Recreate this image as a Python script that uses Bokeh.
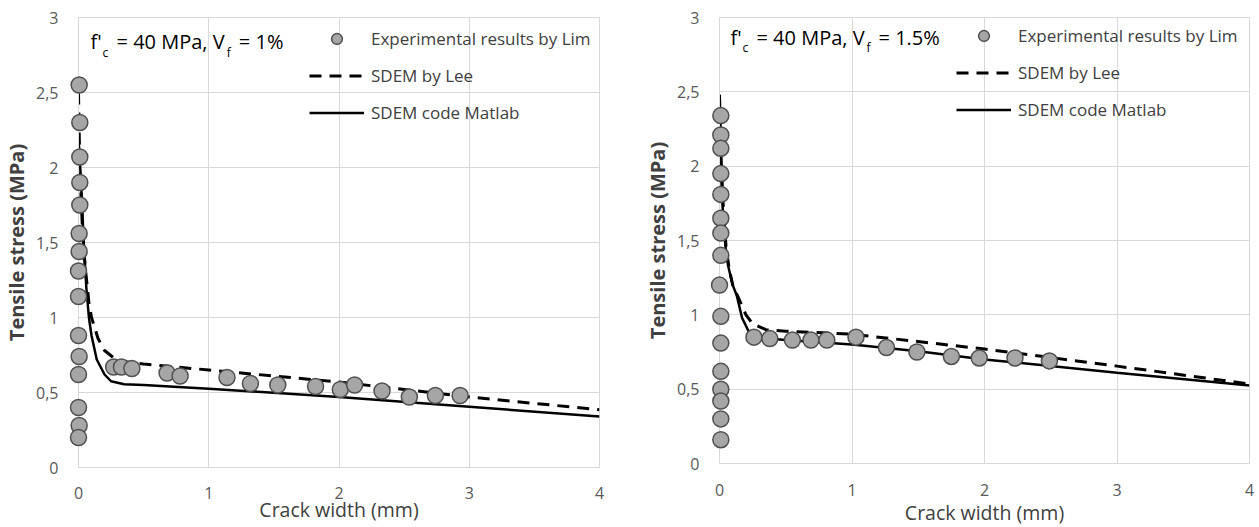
from bokeh.plotting import figure
from bokeh.layouts import row
from bokeh.models import Range1d, FixedTicker, Legend, LegendItem, Label
from bokeh.embed import file_html
from bokeh.resources import INLINE

# ---------------- data: left panel (f'c = 40 MPa, Vf = 1%) ----------------
exp1_x = [0.005, 0.01, 0.01, 0.01, 0.01, 0.005, 0.005, 0.0, 0.0, 0.0, 0.005, 0.0, 0.0, 0.005, 0.0,
          0.27, 0.33, 0.41, 0.68, 0.78, 1.14, 1.32, 1.53, 1.82, 2.01, 2.12, 2.33, 2.54, 2.74, 2.93]
exp1_y = [2.55, 2.30, 2.07, 1.90, 1.75, 1.56, 1.44, 1.31, 1.14, 0.88, 0.74, 0.62, 0.40, 0.28, 0.20,
          0.67, 0.67, 0.66, 0.63, 0.61, 0.60, 0.56, 0.55, 0.54, 0.52, 0.55, 0.51, 0.47, 0.48, 0.48]
lee1_x = [0.0, 0.01, 0.03, 0.05, 0.08, 0.10, 0.15, 0.20, 0.30, 0.50, 1.0, 2.0, 3.0, 4.0]
lee1_y = [2.50, 2.00, 1.60, 1.35, 1.10, 1.00, 0.86, 0.78, 0.71, 0.69, 0.65, 0.57, 0.47, 0.385]
mat1_x = [0.0, 0.02, 0.04, 0.06, 0.08, 0.10, 0.14, 0.20, 0.25, 0.35, 0.50, 1.0, 2.0, 3.0, 4.0]
mat1_y = [2.20, 1.90, 1.50, 1.20, 1.00, 0.88, 0.72, 0.62, 0.575, 0.555, 0.55, 0.525, 0.47, 0.405, 0.34]

# ---------------- data: right panel (f'c = 40 MPa, Vf = 1.5%) ----------------
exp2_x = [0.01, 0.01, 0.01, 0.01, 0.01, 0.01, 0.01, 0.01, 0.0, 0.01, 0.01, 0.01, 0.01, 0.01, 0.01, 0.01,
          0.26, 0.38, 0.55, 0.69, 0.81, 1.03, 1.26, 1.49, 1.75, 1.96, 2.23, 2.49]
exp2_y = [2.34, 2.21, 2.12, 1.95, 1.81, 1.65, 1.55, 1.40, 1.20, 0.99, 0.81, 0.62, 0.50, 0.42, 0.30, 0.16,
          0.85, 0.84, 0.83, 0.83, 0.83, 0.85, 0.78, 0.75, 0.72, 0.71, 0.71, 0.69]
lee2_x = [0.0, 0.01, 0.03, 0.05, 0.075, 0.10, 0.15, 0.20, 0.25, 0.35, 0.50, 1.0, 2.0, 3.0, 4.0]
lee2_y = [2.48, 2.10, 1.70, 1.45, 1.30, 1.20, 1.10, 1.00, 0.94, 0.90, 0.89, 0.87, 0.77, 0.655, 0.535]
mat2_x = [0.0, 0.01, 0.03, 0.05, 0.065, 0.10, 0.13, 0.17, 0.23, 0.30, 0.50, 1.0, 1.5, 2.0, 3.0, 4.0]
mat2_y = [2.48, 2.00, 1.60, 1.42, 1.33, 1.20, 1.13, 0.98, 0.87, 0.845, 0.83, 0.80, 0.755, 0.70, 0.61, 0.525]

x_ticks = [0, 1, 2, 3, 4]
y_ticks = [0, 0.5, 1, 1.5, 2, 2.5, 3]
y_tick_labels = {0: "0", 0.5: "0,5", 1: "1", 1.5: "1,5", 2: "2", 2.5: "2,5", 3: "3"}
x_tick_labels = {0: "0", 1: "1", 2: "2", 3: "3", 4: "4"}

legend_labels = ["Experimental results by Lim", "SDEM by Lee", "SDEM code Matlab"]
x_title = "Crack width (mm)"
y_title = "Tensile stress (MPa)"

FONT = "Open Sans"
GRID = "#d9d9d9"
TXT = "#595959"
DARK = "#404040"


def make_panel(fw, fh, bl, br, bt, bb, xl_stand, ex, ey, lx, ly, mx, my,
               title_parts, legend_loc):
    p = figure(frame_width=fw, frame_height=fh, output_backend="svg", toolbar_location=None,
               x_range=Range1d(0, 4), y_range=Range1d(0, 3),
               min_border_left=bl, min_border_right=br, min_border_top=bt, min_border_bottom=bb)
    p.background_fill_color = "white"
    p.border_fill_color = "white"
    p.outline_line_color = GRID
    p.xaxis.ticker = FixedTicker(ticks=x_ticks)
    p.yaxis.ticker = FixedTicker(ticks=y_ticks)
    p.xaxis.major_label_overrides = x_tick_labels
    p.yaxis.major_label_overrides = y_tick_labels
    for ax in (p.xaxis[0], p.yaxis[0]):
        ax.axis_line_color = GRID
        ax.major_tick_out = 0
        ax.major_tick_in = 0
        ax.minor_tick_out = 0
        ax.minor_tick_in = 0
        ax.major_label_text_font = FONT
        ax.major_label_text_font_size = "16px"
        ax.major_label_text_color = TXT
        ax.axis_label_text_font = FONT
        ax.axis_label_text_color = DARK
    p.xaxis.axis_label_text_font_size = "19.5px"
    p.xaxis.axis_label_text_font_style = "normal"
    p.yaxis.axis_label_text_font_size = "20px"
    p.yaxis.axis_label_text_font_style = "bold"
    p.xaxis.major_label_standoff = xl_stand[0]
    p.xaxis.axis_label_standoff = xl_stand[1]
    p.yaxis.major_label_standoff = 20
    p.yaxis.axis_label_standoff = 3
    p.xaxis.axis_label = x_title
    p.yaxis.axis_label = y_title
    p.xgrid.grid_line_color = GRID
    p.ygrid.grid_line_color = GRID

    r_lee = p.line(lx, ly, line_color="black", line_width=3, line_dash="12 8")
    r_mat = p.line(mx, my, line_color="black", line_width=2.5)
    r_exp = p.scatter(ex, ey, size=16, fill_color="#a6a6a6", line_color="#505050", line_width=1.5)
    r_exp.level = "overlay"

    legend = Legend(items=[LegendItem(label=legend_labels[0], renderers=[r_exp]),
                           LegendItem(label=legend_labels[1], renderers=[r_lee]),
                           LegendItem(label=legend_labels[2], renderers=[r_mat])],
                    location=legend_loc, padding=0, margin=0, spacing=10,
                    glyph_width=55, glyph_height=27, label_height=27, label_standoff=7,
                    border_line_alpha=0, background_fill_alpha=0,
                    label_text_font=FONT, label_text_font_size="17px", label_text_color=DARK)
    p.add_layout(legend)

    for (tx, ty, txt, fs) in title_parts:
        p.add_layout(Label(x=tx, y=ty, text=txt, text_font=FONT, text_font_size=fs,
                           text_color="black", text_baseline="middle", text_align="left"))
    return p


left_title = [(0.092, 2.837, "f'", "20px"), (0.185, 2.767, "c", "12px"),
              (0.292, 2.837, "= 40 MPa, V", "20px"), (1.138, 2.767, "f", "12px"),
              (1.231, 2.837, "= 1%", "20px")]
right_title = [(0.083, 2.868, "f'", "20px"), (0.174, 2.798, "c", "12px"),
               (0.279, 2.868, "= 40 MPa, V", "20px"), (1.109, 2.798, "f", "12px"),
               (1.200, 2.868, "= 1.5%", "20px")]

p1 = make_panel(521, 450, 77, 32, 17, 60, (19, -6), exp1_x, exp1_y, lee1_x, lee1_y, mat1_x, mat1_y,
                left_title, (231, 341))
p2 = make_panel(530, 446, 88, 11, 13, 68, (20, 0), exp2_x, exp2_y, lee2_x, lee2_y, mat2_x, mat2_y,
                right_title, (237, 340))

layout = row(p1, p2, spacing=0)
open("out.html", "w").write(file_html(layout, INLINE))
